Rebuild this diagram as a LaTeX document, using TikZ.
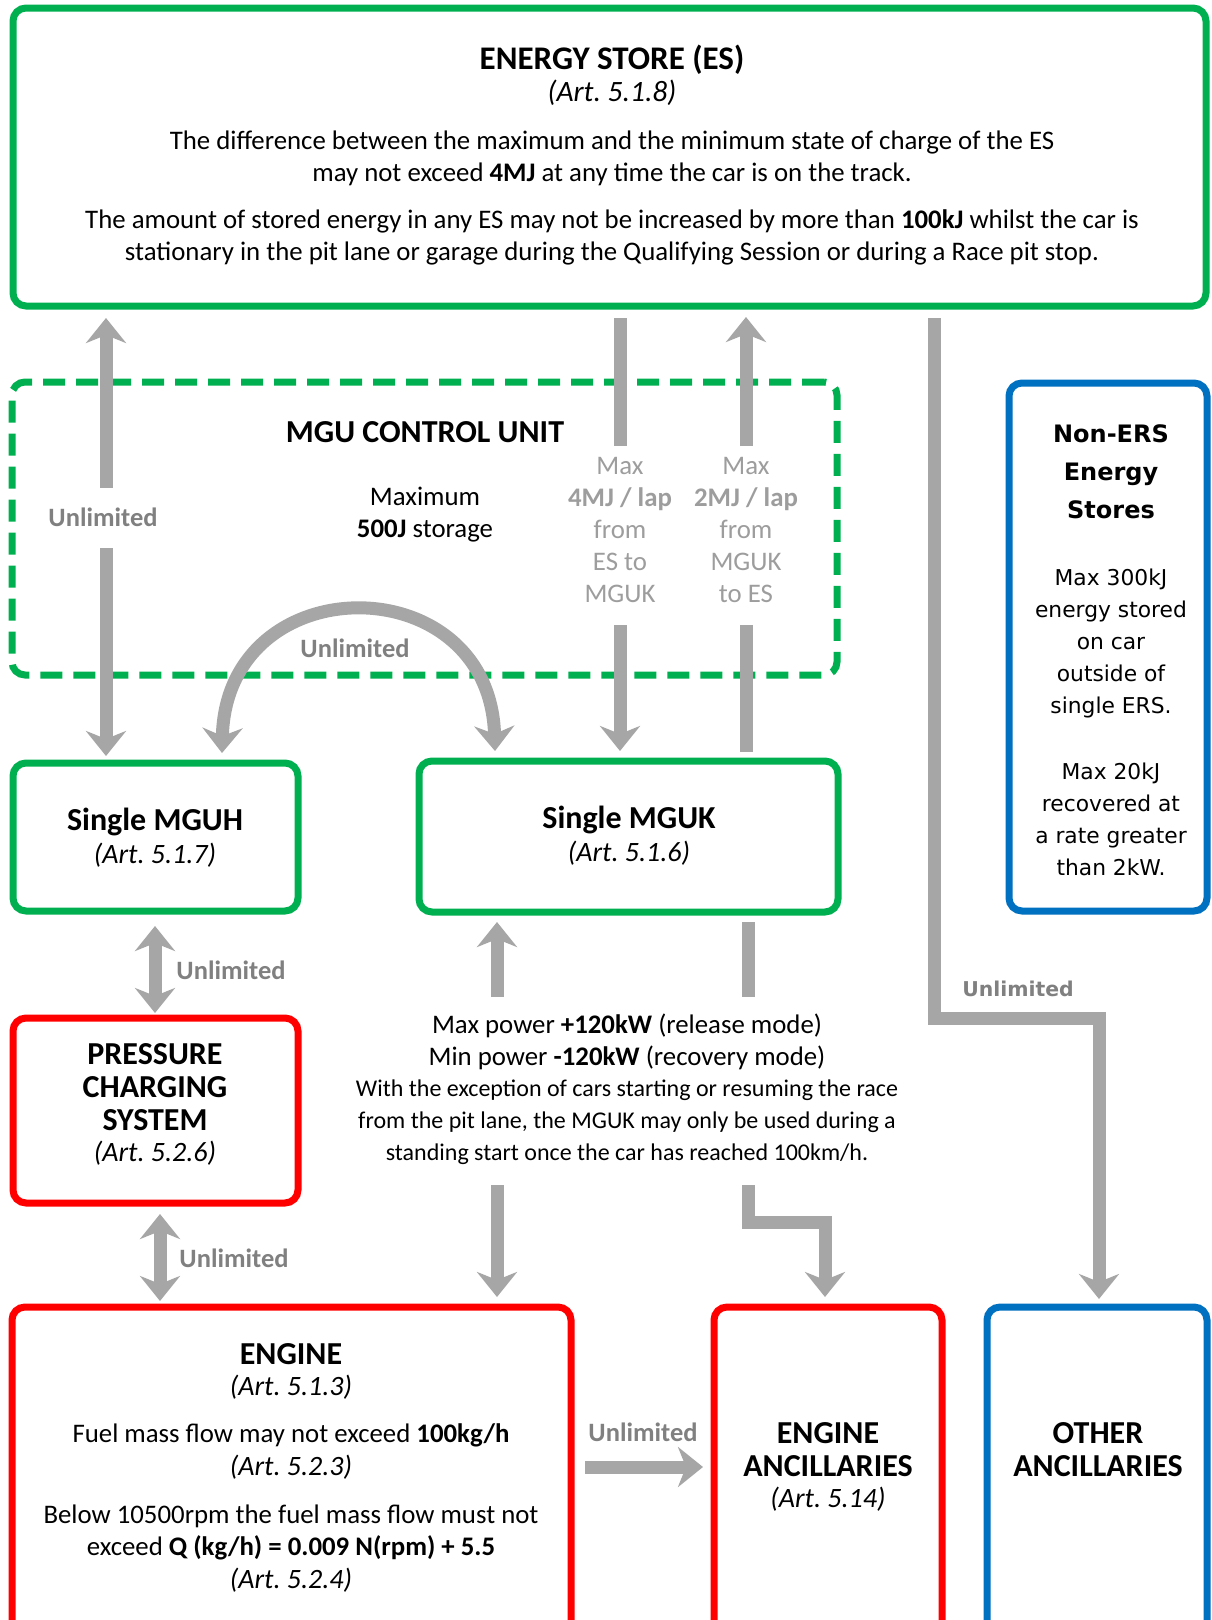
\documentclass[tikz,border=0pt]{standalone}
\usepackage{fontspec}
\setmainfont{Carlito}
\newfontfamily\vfont{DejaVu Sans}
\usetikzlibrary{arrows.meta}
\definecolor{esgreen}{HTML}{00B050}
\definecolor{ered}{HTML}{FF0000}
\definecolor{eblue}{HTML}{0070C0}
\definecolor{agrey}{HTML}{A6A6A6}
\definecolor{tgrey}{HTML}{9D9D9D}
\definecolor{lgrey}{HTML}{808080}
\newcommand\fsz[2]{\fontsize{#1}{#2}\selectfont}
\frenchspacing
\begin{document}
\begin{tikzpicture}[x=1pt,y=-1pt,
  box/.style={draw,line width=7pt,rounded corners=13pt,inner sep=0pt},
  gbox/.style={box,draw=esgreen},
  rbox/.style={box,draw=ered},
  bbox/.style={box,draw=eblue},
  flow/.style={draw=agrey,line width=13pt},
  headend/.style={-{Stealth[length=25pt,width=40pt,inset=8pt]}},
  headboth/.style={{Stealth[length=25pt,width=40pt,inset=8pt]}-{Stealth[length=25pt,width=40pt,inset=8pt]}},
  txt/.style={align=center,inner sep=0pt,font=\fsz{26.8}{32}},
  art/.style={align=center,inner sep=0pt,font=\fsz{28}{32}\itshape},
  ttl/.style={align=center,inner sep=0pt,font=\fsz{32}{33}\bfseries},
  lbl/.style={inner sep=0pt,text=lgrey,font=\fsz{26.5}{32}\bfseries},
]
\useasboundingbox (0,0) rectangle (1211,1620);
\fill[white] (0,0) rectangle (1211,1620);
\clip (0,0) rectangle (1211,1620);

% ---- boxes
\node[gbox,minimum width=1193pt,minimum height=298pt] (es) at (609.5,157) {};
\node[box,draw=esgreen,dash pattern=on 22pt off 11pt,minimum width=825pt,minimum height=293pt] (mgu) at (424.5,528.5) {};
\node[gbox,minimum width=285pt,minimum height=148pt] (mguh) at (155.5,837) {};
\node[gbox,minimum width=419pt,minimum height=151pt] (mguk) at (628.5,836.5) {};
\node[rbox,minimum width=285pt,minimum height=185pt] (pcs) at (155.5,1110.5) {};
\node[bbox,minimum width=198pt,minimum height=528pt] (nonres) at (1108,647) {};
\node[rbox,minimum width=559pt,minimum height=333pt] (engine) at (291.5,1473.5) {};
\node[rbox,minimum width=228pt,minimum height=333pt] (eanc) at (828,1473.5) {};
\node[bbox,minimum width=220pt,minimum height=333pt] (oanc) at (1097,1473.5) {};

% ---- texts
\node[ttl,font=\fsz{33}{33}\bfseries] (estitle) at (612,60) {ENERGY STORE (ES)};
\node[art,font=\fsz{29.5}{32}\itshape] (esart) at (612,93) {(Art. 5.1.8)};
\node[txt] (esp1) at (612,158) {The difference between the maximum and the minimum state of charge of the ES\\may not exceed \textbf{4MJ} at any time the car is on the track.};
\node[txt] (esp2) at (612,237.5) {The amount of stored energy in any ES may not be increased by more than \textbf{100kJ} whilst the car is\\stationary in the pit lane or garage during the Qualifying Session or during a Race pit stop.};

\node[ttl] (mgutitle) at (425,432) {MGU CONTROL UNIT};
\node[txt] (mgutxt) at (425,515) {Maximum\\\textbf{500J} storage};
\node[txt,text=tgrey] (g1) at (620,530) {Max\\\textbf{4MJ / lap}\\from\\ES to\\MGUK};
\node[txt,text=tgrey] (g2) at (746,530) {Max\\\textbf{2MJ / lap}\\from\\MGUK\\to ES};

\node[ttl] (mguht) at (155,822) {Single MGUH};
\node[art] (mguha) at (155,855) {(Art. 5.1.7)};
\node[ttl] (mgukt) at (629,820) {Single MGUK};
\node[art] (mguka) at (629,853) {(Art. 5.1.6)};

\node[ttl] (pcst) at (155,1087) {PRESSURE\\CHARGING\\SYSTEM};
\node[art] (pcsa) at (155,1153) {(Art. 5.2.6)};

\node[txt] (pw1) at (627,1042) {Max power \textbf{+120kW} (release mode)\\Min power \textbf{-120kW} (recovery mode)};
\node[txt,font=\fsz{24}{32}] (pw2) at (627,1122) {With the exception of cars starting or resuming the race\\from the pit lane, the MGUK may only be used during a\\standing start once the car has reached 100km/h.};

\node[txt,font=\vfont\fsz{24}{38}\bfseries] (nont) at (1111,472) {Non-ERS\\Energy\\Stores};
\node[txt,font=\vfont\fsz{21.8}{32}] (non1) at (1111,643.5) {Max 300kJ\\energy stored\\on car\\outside of\\single ERS.};
\node[txt,font=\vfont\fsz{21.8}{32}] (non2) at (1111,819.5) {Max 20kJ\\recovered at\\a rate greater\\than 2kW.};

\node[ttl] (engt) at (291,1354) {ENGINE};
\node[art] (enga) at (291,1387) {(Art. 5.1.3)};
\node[txt] (eng1) at (291,1435) {Fuel mass flow may not exceed \textbf{100kg/h}};
\node[art] (eng1a) at (291,1467) {(Art. 5.2.3)};
\node[txt] (eng2) at (291,1532) {Below 10500rpm the fuel mass flow must not\\exceed \textbf{Q (kg/h) = 0.009 N(rpm) + 5.5}};
\node[art] (eng2a) at (291,1580) {(Art. 5.2.4)};

\node[ttl] (eanct) at (828,1450) {ENGINE\\ANCILLARIES};
\node[art] (eanca) at (828,1499) {(Art. 5.14)};
\node[ttl] (oanct) at (1098,1450) {OTHER\\ANCILLARIES};

% ---- labels
\node[lbl] (u1) at (103,517) {Unlimited};
\node[lbl] (u2) at (355,648) {Unlimited};
\node[lbl] (u3) at (231,970) {Unlimited};
\node[lbl] (u4) at (234,1258) {Unlimited};
\node[lbl] (u5) at (643,1432) {Unlimited};
\node[lbl,font=\vfont\fsz{20.4}{24}\bfseries] (u6) at (1018,989) {Unlimited};

% ---- connectors
\coordinate (a1) at (106,318); \coordinate (a2) at (106,488);
\coordinate (a3) at (106,548); \coordinate (a4) at (106,756);
\draw[flow,headend] (a2) -- (a1);
\draw[flow,headend] (a3) -- (a4);

\coordinate (c1) at (222,753); \coordinate (c2) at (495,751);
\draw[flow,headboth] (c1) .. controls (226,565) and (490,565) .. (c2);

\coordinate (d1) at (620,318); \coordinate (d2) at (620,446);
\coordinate (d3) at (620,625); \coordinate (d4) at (620,751);
\draw[flow] (d1) -- (d2);
\draw[flow,headend] (d3) -- (d4);

\coordinate (e1) at (746,317); \coordinate (e2) at (746,446);
\coordinate (e3) at (746,625); \coordinate (e4) at (746,752);
\draw[flow,headend] (e2) -- (e1);
\draw[flow] (e4) -- (e3);

\coordinate (f1) at (497,922); \coordinate (f2) at (497,997);
\draw[flow,headend] (f2) -- (f1);
\coordinate (h1) at (748,922); \coordinate (h2) at (748,997);
\draw[flow] (h1) -- (h2);

\coordinate (f3) at (497,1185); \coordinate (f4) at (497,1297);
\draw[flow,headend] (f3) -- (f4);
\coordinate (h3) at (748,1185); \coordinate (h4) at (825,1222); \coordinate (h5) at (825,1297);
\draw[flow,headend] (h3) |- (h4) -- (h5);

\coordinate (k1) at (934,318); \coordinate (k2) at (1099,1018); \coordinate (k3) at (1099,1299);
\draw[flow,headend] (k1) |- (k2) -- (k3);

\coordinate (p1) at (155,926); \coordinate (p2) at (155,1013);
\draw[flow,headboth] (p1) -- (p2);
\coordinate (q1) at (160,1214); \coordinate (q2) at (160,1301);
\draw[flow,headboth] (q1) -- (q2);

\coordinate (r1) at (585,1467); \coordinate (r2) at (703,1467);
\draw[flow,headend] (r1) -- (r2);
\end{tikzpicture}
\end{document}
